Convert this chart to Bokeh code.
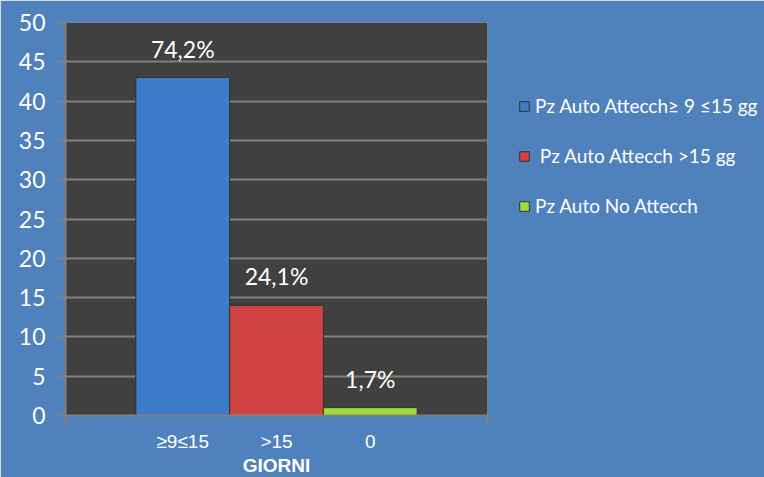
from bokeh.plotting import figure
from bokeh.models import ColumnDataSource, FixedTicker, Range1d, Legend, LegendItem
from bokeh.embed import file_html
from bokeh.resources import INLINE
from bokeh.core.properties import value

categories = ["≥9≤15", ">15", "0"]
counts = [43, 14, 1]
pct_labels = ["74,2%", "24,1%", "1,7%"]
series_names = ["Pz Auto Attecch≥ 9 ≤15 gg", " Pz Auto Attecch >15 gg", "Pz Auto No Attecch"]
colors = ["#3D7CCB", "#D24242", "#9CDB3A"]
y_ticks = [0, 5, 10, 15, 20, 25, 30, 35, 40, 45, 50]

xpos = [1.25, 2.25, 3.25]
x_end = 4.5

BG = "#4F81BD"
p = figure(width=764, height=477, output_backend="svg", toolbar_location=None,
           x_range=Range1d(0, x_end), y_range=Range1d(0, 50),
           frame_width=422, frame_height=393,
           min_border_left=65, min_border_right=277, min_border_top=22, min_border_bottom=62)
p.background_fill_color = "#404040"
p.border_fill_color = BG
p.outline_line_color = None

src = ColumnDataSource(dict(x=xpos, top=counts, lab=pct_labels))
renderers = []
for i in range(3):
    r = p.vbar(x=[xpos[i]], top=[counts[i]], width=1.0, bottom=0, fill_color=colors[i],
               line_color="#333333", line_width=1)
    renderers.append(r)

p.text(x="x", y="top", text="lab", source=src, text_color="white",
       text_font=value("Lato"), text_font_size="23px", text_align="center",
       text_baseline="bottom", y_offset=-15)

# grid
p.xgrid.grid_line_color = None
p.ygrid.grid_line_color = "#808080"
p.ygrid.grid_line_width = 2
p.ygrid.ticker = FixedTicker(ticks=y_ticks)

# y axis
p.yaxis.ticker = FixedTicker(ticks=y_ticks)
p.yaxis.axis_line_color = "#808080"
p.yaxis.axis_line_width = 2
p.yaxis.major_tick_line_color = "#808080"
p.yaxis.major_tick_line_width = 2
p.yaxis.major_tick_out = 8
p.yaxis.major_tick_in = 0
p.yaxis.minor_tick_line_color = None
p.yaxis.major_label_text_color = "white"
p.yaxis.major_label_text_font = "Lato"
p.yaxis.major_label_text_font_size = "23px"
p.yaxis.major_label_standoff = 12

# x axis
p.xaxis.ticker = FixedTicker(ticks=xpos, minor_ticks=[0, x_end])
p.xaxis.major_label_overrides = {xpos[i]: categories[i] for i in range(3)}
p.xaxis.axis_line_color = "#808080"
p.xaxis.axis_line_width = 2
p.xaxis.major_tick_line_color = None
p.xaxis.major_tick_out = 0
p.xaxis.major_tick_in = 0
p.xaxis.minor_tick_line_color = "#808080"
p.xaxis.minor_tick_line_width = 2
p.xaxis.minor_tick_out = 9
p.xaxis.minor_tick_in = 0
p.xaxis.major_label_text_color = "white"
p.xaxis.major_label_text_font = "Liberation Sans"
p.xaxis.major_label_text_font_size = "19px"
p.xaxis.major_label_standoff = 6
p.xaxis.axis_label = "GIORNI"
p.xaxis.axis_label_text_color = "white"
p.xaxis.axis_label_text_font = "Liberation Sans"
p.xaxis.axis_label_text_font_style = "bold"
p.xaxis.axis_label_text_font_size = "19px"
p.xaxis.axis_label_standoff = 0

legend = Legend(items=[LegendItem(label=series_names[i], renderers=[renderers[i]]) for i in range(3)],
                location=(31, 198))
legend.background_fill_alpha = 0
legend.border_line_alpha = 0
legend.label_text_color = "white"
legend.label_text_font = "Lato"
legend.label_text_font_size = "19px"
legend.glyph_width = 12
legend.glyph_height = 12
legend.label_height = 23
legend.spacing = 27
legend.padding = 0
legend.margin = 0
legend.label_standoff = 5
p.add_layout(legend, "right")

open("out.html", "w").write(file_html(p, INLINE))
